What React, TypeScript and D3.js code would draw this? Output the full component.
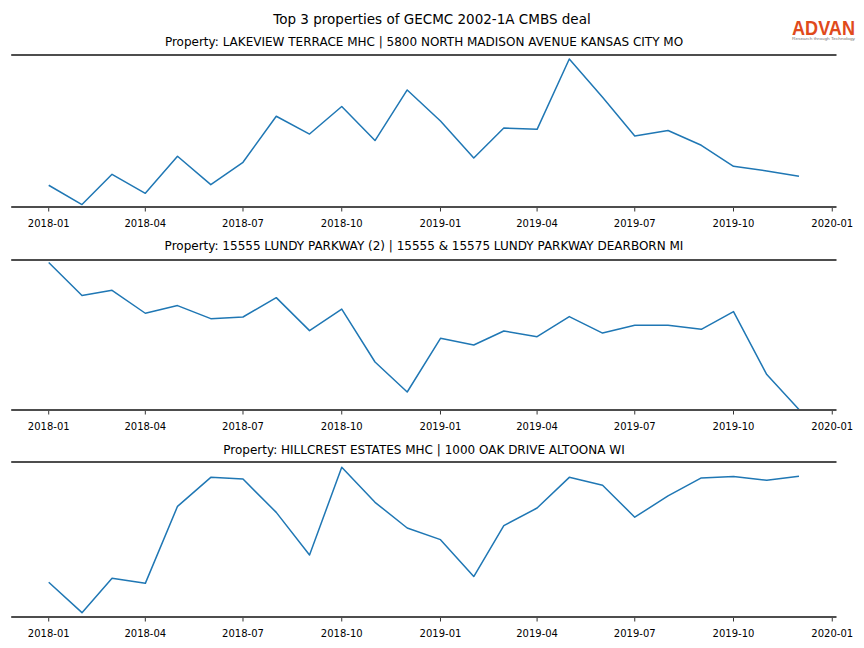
import React from "react";
import * as d3 from "d3";

const months: string[] = [
  "2018-01","2018-02","2018-03","2018-04","2018-05","2018-06","2018-07","2018-08","2018-09","2018-10","2018-11","2018-12",
  "2019-01","2019-02","2019-03","2019-04","2019-05","2019-06","2019-07","2019-08","2019-09","2019-10","2019-11","2019-12",
];

const lakeviewValues: number[] = [
  14.3, 1.6, 21.5, 9.0, 33.4, 14.7, 29.4, 59.7, 48.0, 66.1, 43.7, 77.0,
  56.6, 32.2, 52.0, 51.1, 97.4, 72.2, 46.7, 50.3, 40.6, 26.8, 23.7, 20.2,
];
const lundyValues: number[] = [
  98.3, 76.3, 79.8, 64.5, 69.6, 60.9, 62.0, 74.9, 52.9, 67.3, 32.0, 12.0,
  47.8, 43.3, 52.7, 48.9, 62.3, 51.3, 56.5, 56.5, 53.8, 65.6, 23.6, 0.3,
];
const hillcrestValues: number[] = [
  22.4, 2.8, 25.0, 21.7, 71.4, 90.1, 89.0, 67.5, 40.0, 96.6, 74.0, 57.4,
  49.9, 26.1, 59.0, 70.3, 90.1, 85.0, 64.4, 78.1, 89.7, 90.6, 88.2, 90.8,
];

const panelTitles: string[] = [
  "Property: LAKEVIEW TERRACE MHC | 5800 NORTH MADISON AVENUE KANSAS CITY MO",
  "Property: 15555 LUNDY PARKWAY (2) | 15555 & 15575 LUNDY PARKWAY DEARBORN MI",
  "Property: HILLCREST ESTATES MHC | 1000 OAK DRIVE ALTOONA WI",
];

const tickLabels: string[] = [
  "2018-01","2018-04","2018-07","2018-10","2019-01","2019-04","2019-07","2019-10","2020-01",
];

const mainTitle = "Top 3 properties of GECMC 2002-1A CMBS deal";

const W = 864;
const H = 648;
const FONT = "DejaVu Sans, sans-serif";

const panels = [
  { top: 55, bottom: 207, titleY: 46, values: lakeviewValues, title: panelTitles[0] },
  { top: 260, bottom: 410, titleY: 250, values: lundyValues, title: panelTitles[1] },
  { top: 462, bottom: 617, titleY: 454, values: hillcrestValues, title: panelTitles[2] },
];

const parse = d3.timeParse("%Y-%m");

export default function App() {
  const dates = months.map((m) => parse(m) as Date);
  const first = dates[0];
  const last = dates[dates.length - 1];
  const span = last.getTime() - first.getTime();
  const pad = span * 0.05;
  const x = d3
    .scaleTime()
    .domain([new Date(first.getTime() - pad), new Date(last.getTime() + pad)])
    .range([11.2, 836.5]);
  const ticks = tickLabels.map((t) => parse(t) as Date);
  const fmt = d3.timeFormat("%Y-%m");

  return (
    <svg
      width={W}
      height={H}
      style={{ position: "absolute", left: 0, top: 0, background: "#fff" }}
      fontFamily={FONT}
    >
      <rect x={0} y={0} width={W} height={H} fill="#fff" />
      <text x={432} y={24} textAnchor="middle" fontSize={13.5} fill="#000">
        {mainTitle}
      </text>
      <g>
        <text
          x={792}
          y={34.5}
          fontFamily="Liberation Sans, Arial, sans-serif"
          fontSize={21}
          fontWeight="bold"
          fill="#e04a1c"
          textLength={63}
          lengthAdjust="spacingAndGlyphs"
        >
          ADVAN
        </text>
        <text
          x={792}
          y={40}
          fontFamily="Liberation Sans, Arial, sans-serif"
          fontSize={4}
          fill="#777"
          textLength={63}
          lengthAdjust="spacingAndGlyphs"
        >
          Research through Technology
        </text>
      </g>
      {panels.map((p, i) => {
        const y = d3.scaleLinear().domain([0, 100]).range([p.bottom, p.top]);
        const line = d3
          .line<number>()
          .x((_, j) => x(dates[j]))
          .y((v) => y(v));
        return (
          <g key={i}>
            <text x={424} y={p.titleY} textAnchor="middle" fontSize={12} fill="#000">
              {p.title}
            </text>
            <path d={line(p.values) || ""} fill="none" stroke="#1f77b4" strokeWidth={1.5} strokeLinejoin="round" />
            <line x1={x.range()[0]} x2={x.range()[1]} y1={p.top} y2={p.top} stroke="#4d4d4d" strokeWidth={2} />
            <line x1={x.range()[0]} x2={x.range()[1]} y1={p.bottom} y2={p.bottom} stroke="#4d4d4d" strokeWidth={2} />
            {ticks.map((t, k) => (
              <g key={k} transform={`translate(${x(t)},${p.bottom})`}>
                <line y1={1} y2={4.5} stroke="#000" strokeWidth={0.8} />
                <text y={19.5} textAnchor="middle" fontSize={10} fill="#000">
                  {fmt(t)}
                </text>
              </g>
            ))}
          </g>
        );
      })}
    </svg>
  );
}
